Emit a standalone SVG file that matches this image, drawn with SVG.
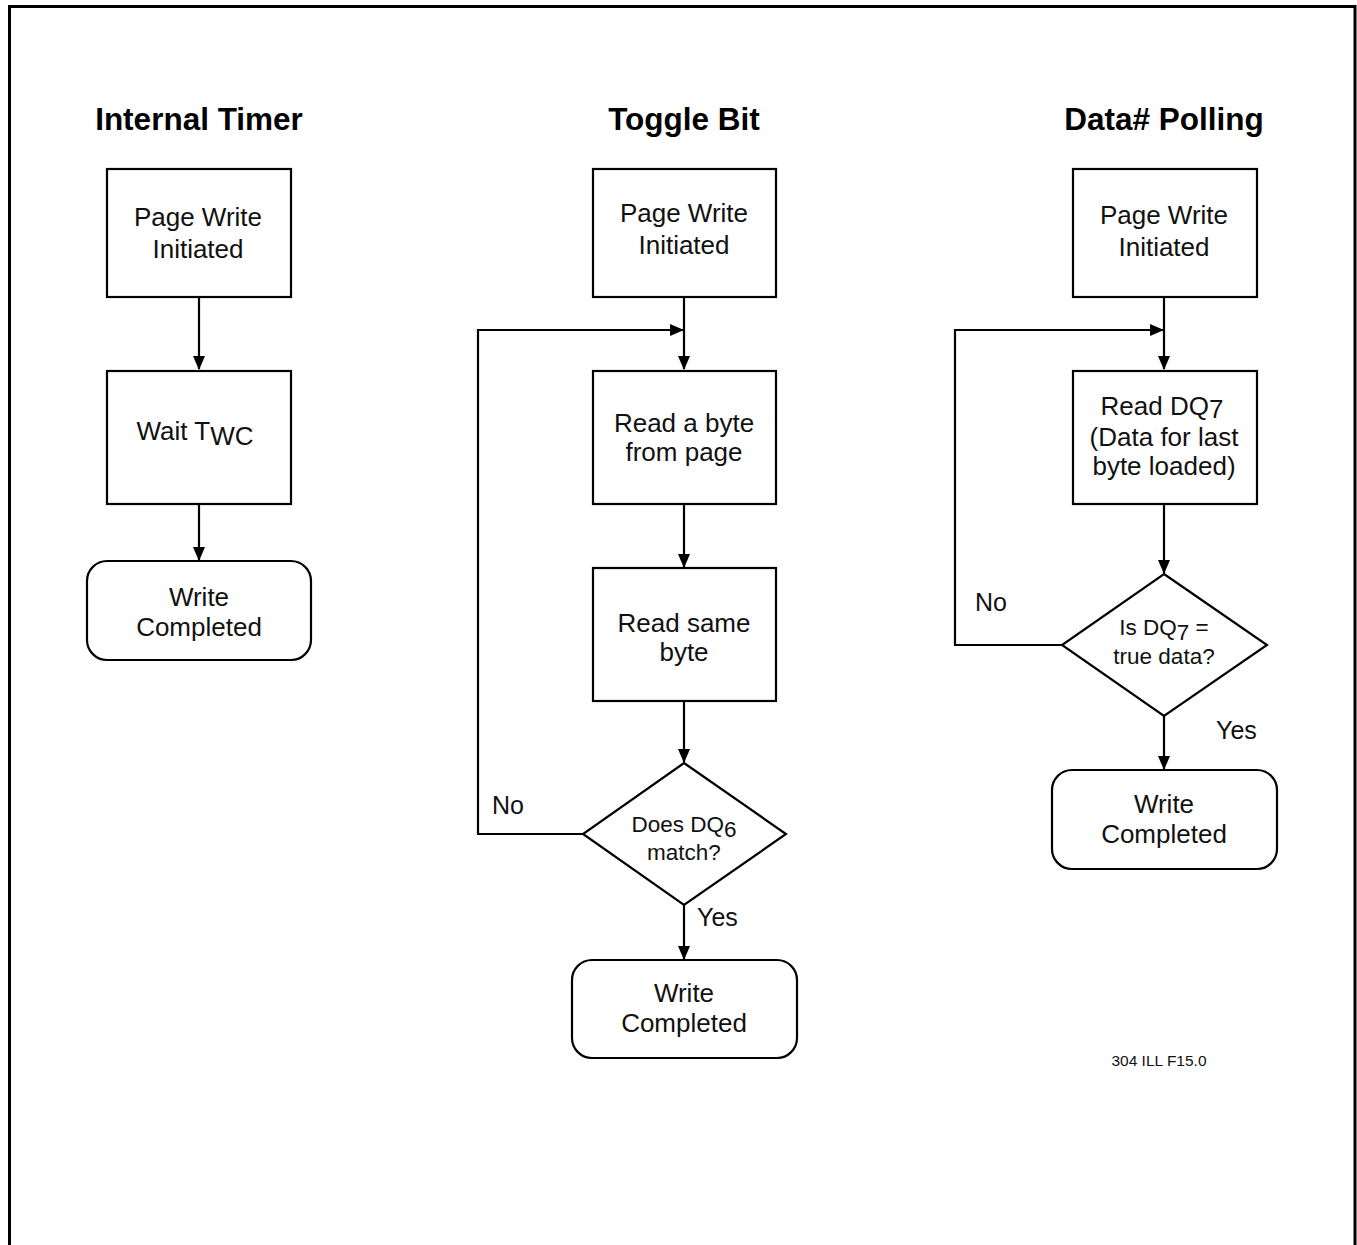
<svg xmlns="http://www.w3.org/2000/svg" width="1357" height="1245" viewBox="0 0 1357 1245">
<style>
.box{fill:#fff;stroke:#000;stroke-width:2.2}
.t{font-family:"Liberation Sans",Arial,sans-serif;font-size:26px;fill:#111;text-anchor:middle}
.s{font-family:"Liberation Sans",Arial,sans-serif;font-size:22.5px;fill:#111;text-anchor:middle}
.h{font-family:"Liberation Sans",Arial,sans-serif;font-size:31.5px;font-weight:bold;fill:#000;text-anchor:middle}
.l{font-family:"Liberation Sans",Arial,sans-serif;font-size:25px;fill:#111}
.c{fill:none;stroke:#000;stroke-width:2.2}
</style>
<defs>
<marker id="ah" markerWidth="14" markerHeight="12" refX="13" refY="6" orient="auto" markerUnits="userSpaceOnUse">
<path d="M0,0 L14,6 L0,12 Z" fill="#000"/>
</marker>
</defs>
<rect width="1357" height="1245" fill="#fff"/>
<path d="M9.5,1250 V6.5 H1355 V1250" fill="none" stroke="#000" stroke-width="3"/>
<text class="h" x="199" y="130">Internal Timer</text>
<text class="h" x="684" y="130">Toggle Bit</text>
<text class="h" x="1164" y="130">Data# Polling</text>
<g id="connectors">
<line class="c" x1="199" y1="297" x2="199" y2="369" marker-end="url(#ah)"/>
<line class="c" x1="199" y1="504" x2="199" y2="560" marker-end="url(#ah)"/>
<line class="c" x1="684" y1="297" x2="684" y2="369" marker-end="url(#ah)"/>
<line class="c" x1="684" y1="504" x2="684" y2="567" marker-end="url(#ah)"/>
<line class="c" x1="684" y1="701" x2="684" y2="762" marker-end="url(#ah)"/>
<line class="c" x1="684" y1="905" x2="684" y2="959" marker-end="url(#ah)"/>
<path class="c" d="M583,834 H478 V330 H683" marker-end="url(#ah)"/>
<line class="c" x1="1164" y1="297" x2="1164" y2="369" marker-end="url(#ah)"/>
<line class="c" x1="1164" y1="504" x2="1164" y2="573" marker-end="url(#ah)"/>
<line class="c" x1="1164" y1="716" x2="1164" y2="769" marker-end="url(#ah)"/>
<path class="c" d="M1062,645 H955 V330 H1163" marker-end="url(#ah)"/>
<text class="l" x="492" y="814">No</text>
<text class="l" x="697" y="926">Yes</text>
<text class="l" x="975" y="611">No</text>
<text class="l" x="1216" y="739">Yes</text>
</g>
<g id="it-start"><rect class="box" x="107" y="169" width="184" height="128"/><text class="t" x="198" y="226">Page Write</text><text class="t" x="198" y="258">Initiated</text></g>
<g id="it-wait"><rect class="box" x="107" y="371" width="184" height="133"/><text class="t" x="195" y="440">Wait T<tspan dy="5">WC</tspan></text></g>
<g id="it-done"><rect class="box" x="87" y="561" width="224" height="99" rx="20"/><text class="t" x="199" y="606">Write</text><text class="t" x="199" y="636">Completed</text></g>
<g id="tb-start"><rect class="box" x="593" y="169" width="183" height="128"/><text class="t" x="684" y="222">Page Write</text><text class="t" x="684" y="254">Initiated</text></g>
<g id="tb-read"><rect class="box" x="593" y="371" width="183" height="133"/><text class="t" x="684" y="432">Read a byte</text><text class="t" x="684" y="461">from page</text></g>
<g id="tb-same"><rect class="box" x="593" y="568" width="183" height="133"/><text class="t" x="684" y="632">Read same</text><text class="t" x="684" y="661">byte</text></g>
<g id="tb-dec"><path class="box" d="M684,763 L786,834 L684,905 L583,834 Z"/><text class="s" x="684" y="832">Does DQ<tspan dy="5">6</tspan></text><text class="s" x="684" y="860">match?</text></g>
<g id="tb-done"><rect class="box" x="572" y="960" width="225" height="98" rx="20"/><text class="t" x="684" y="1002">Write</text><text class="t" x="684" y="1032">Completed</text></g>
<g id="dp-start"><rect class="box" x="1073" y="169" width="184" height="128"/><text class="t" x="1164" y="224">Page Write</text><text class="t" x="1164" y="256">Initiated</text></g>
<g id="dp-read"><rect class="box" x="1073" y="371" width="184" height="133"/><text class="t" x="1162" y="415">Read DQ<tspan dy="3">7</tspan></text><text class="t" x="1164" y="446">(Data for last</text><text class="t" x="1164" y="475">byte loaded)</text></g>
<g id="dp-dec"><path class="box" d="M1164,574 L1267,645 L1164,716 L1062,645 Z"/><text class="s" x="1164" y="635">Is DQ<tspan dy="5">7</tspan><tspan dy="-5"> =</tspan></text><text class="s" x="1164" y="664">true data?</text></g>
<g id="dp-done"><rect class="box" x="1052" y="770" width="225" height="99" rx="20"/><text class="t" x="1164" y="813">Write</text><text class="t" x="1164" y="843">Completed</text></g>
<text x="1159" y="1066" font-family="Liberation Sans, Arial, sans-serif" font-size="15.5" fill="#111" text-anchor="middle">304 ILL F15.0</text>
</svg>
